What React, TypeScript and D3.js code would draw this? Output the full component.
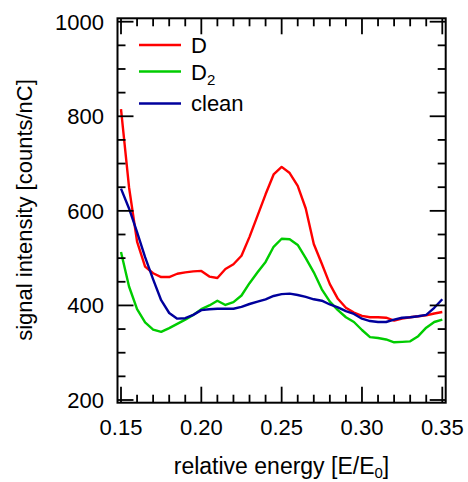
import React from "react";
import * as d3 from "d3";

// Relative energy grid (E/E0)
const energy = [
  0.15, 0.155, 0.16, 0.165, 0.17, 0.175, 0.18, 0.185, 0.19, 0.195,
  0.2, 0.205, 0.21, 0.215, 0.22, 0.225, 0.23, 0.235, 0.24, 0.245,
  0.25, 0.255, 0.26, 0.265, 0.27, 0.275, 0.28, 0.285, 0.29, 0.295,
  0.3, 0.305, 0.31, 0.315, 0.32, 0.325, 0.33, 0.335, 0.34, 0.345, 0.35,
];

// Signal intensity [counts/nC] per series
const seriesD = [
  815, 650, 535, 482, 468, 460, 460, 467, 470, 472,
  473, 461, 458, 477, 487, 505, 545, 590, 635, 677,
  693, 680, 653, 605, 530, 488, 445, 414, 395, 385,
  378, 375, 375, 374, 368, 372, 375, 377, 379, 383, 386,
];
const seriesD2 = [
  513, 440, 392, 364, 349, 344, 352, 361, 370, 380,
  392, 400, 410, 401, 407, 421, 447, 470, 492, 524,
  541, 540, 528, 500, 470, 434, 408, 390, 375, 365,
  348, 333, 331, 328, 322, 323, 324, 335, 353, 365, 370,
];
const seriesClean = [
  647, 605, 555, 502, 455, 411, 384, 372, 373, 380,
  390, 392, 393, 393, 393, 397, 403, 408, 413, 420,
  424, 425, 422, 418, 413, 410, 402, 396, 388, 382,
  372, 367, 365, 365, 370, 374, 375, 377, 380, 395, 413,
];

const xMajorTicks = [0.15, 0.2, 0.25, 0.3, 0.35];
const yMajorTicks = [200, 400, 600, 800, 1000];

const FONT = "'Liberation Sans', Arial, Helvetica, sans-serif";

export default function App() {
  const width = 468;
  const height = 482;

  // frame of the plot area
  const frame = { left: 117.5, right: 445.7, top: 18.3, bottom: 402.7 };

  const x = d3.scaleLinear().domain([0.15, 0.35]).range([121, 442.3]);
  const y = d3.scaleLinear().domain([200, 1000]).range([400, 21.7]);

  const line = d3
    .line<number>()
    .x((_, i) => x(energy[i]))
    .y((v) => y(v));

  const xMinor = d3.range(15, 36).map((v) => v / 100);
  const yMinor = d3.range(200, 1001, 50);

  const major = 16;
  const minor = 8;
  const tickStroke = 1.8;
  const fs = 22;

  const series = [
    { name: "D", values: seriesD, color: "#ff0000" },
    { name: "D2", values: seriesD2, color: "#00cc00" },
    { name: "clean", values: seriesClean, color: "#00009c" },
  ];

  return (
    <svg
      width={width}
      height={height}
      style={{ position: "absolute", left: 0, top: 0, background: "#fff" }}
      fontFamily={FONT}
    >
      <rect x={0} y={0} width={width} height={height} fill="#fff" />

      {/* data curves */}
      <g fill="none" strokeWidth={2.4} strokeLinejoin="round">
        {series.map((s) => (
          <path key={s.name} d={line(s.values) ?? ""} stroke={s.color} />
        ))}
      </g>

      {/* frame */}
      <rect
        x={frame.left}
        y={frame.top}
        width={frame.right - frame.left}
        height={frame.bottom - frame.top}
        fill="none"
        stroke="#000"
        strokeWidth={2}
      />

      {/* ticks on all four sides, pointing inward */}
      <g stroke="#000" strokeWidth={tickStroke}>
        {xMinor.map((v) => {
          const isMajor = xMajorTicks.some((m) => Math.abs(m - v) < 1e-9);
          const len = isMajor ? major : minor;
          return (
            <g key={"x" + v}>
              <line x1={x(v)} x2={x(v)} y1={frame.bottom} y2={frame.bottom - len} />
              <line x1={x(v)} x2={x(v)} y1={frame.top} y2={frame.top + len} />
            </g>
          );
        })}
        {yMinor.map((v) => {
          const isMajor = yMajorTicks.includes(v);
          const len = isMajor ? major : minor;
          return (
            <g key={"y" + v}>
              <line x1={frame.left} x2={frame.left + len} y1={y(v)} y2={y(v)} />
              <line x1={frame.right} x2={frame.right - len} y1={y(v)} y2={y(v)} />
            </g>
          );
        })}
      </g>

      {/* tick labels */}
      <g fontSize={fs} fill="#000">
        {xMajorTicks.map((v) => (
          <text key={"xl" + v} x={x(v)} y={435} textAnchor="middle">
            {d3.format(".2f")(v)}
          </text>
        ))}
        {yMajorTicks.map((v) => (
          <text key={"yl" + v} x={104} y={y(v) + 8} textAnchor="end">
            {v}
          </text>
        ))}
      </g>

      {/* axis titles */}
      <text x={281.5} y={474} fontSize={23} textAnchor="middle" fill="#000">
        relative energy [E/E
        <tspan fontSize={15} dy={4}>0</tspan>
        <tspan dy={-4}>]</tspan>
      </text>
      <text
        transform={`translate(32,210) rotate(-90)`}
        fontSize={fs}
        textAnchor="middle"
        fill="#000"
      >
        signal intensity [counts/nC]
      </text>

      {/* legend */}
      <g fontSize={fs} fill="#000">
        <line x1={139} x2={181} y1={45} y2={45} stroke={series[0].color} strokeWidth={2.4} />
        <text x={191} y={53}>D</text>
        <line x1={139} x2={181} y1={71.5} y2={71.5} stroke={series[1].color} strokeWidth={2.4} />
        <text x={191} y={80}>
          D<tspan fontSize={15} dy={5}>2</tspan>
        </text>
        <line x1={139} x2={181} y1={103.5} y2={103.5} stroke={series[2].color} strokeWidth={2.4} />
        <text x={191} y={111}>clean</text>
      </g>
    </svg>
  );
}
